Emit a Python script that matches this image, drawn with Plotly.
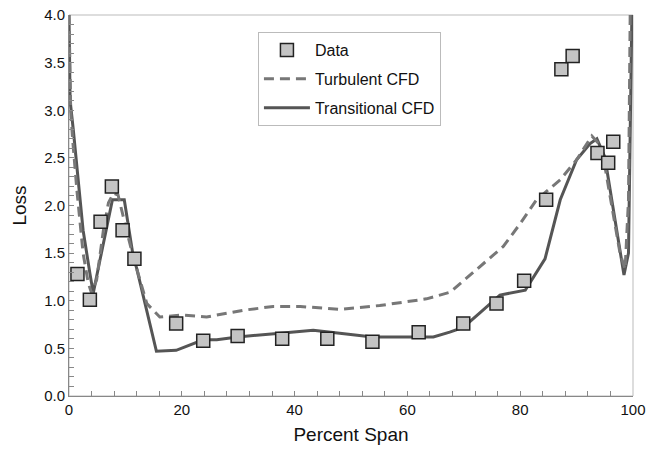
import plotly.graph_objects as go

# Measured data points
data_x = [1.5, 3.7, 5.6, 7.6, 9.5, 11.6, 19.0, 23.8, 29.9, 37.8, 45.8, 53.8, 62.0,
          69.9, 75.8, 80.7, 84.6, 87.3, 89.3, 93.7, 95.6, 96.5]
data_y = [1.28, 1.01, 1.83, 2.20, 1.74, 1.44, 0.76, 0.58, 0.63, 0.60, 0.60, 0.57, 0.67,
          0.76, 0.97, 1.21, 2.06, 3.43, 3.57, 2.55, 2.45, 2.67]

# Turbulent CFD
turb_x = [0, 0.3, 0.65, 1.4, 2.5, 3.4, 4.0, 4.9, 6.1, 7.0, 7.9, 8.7, 10.2, 11.4, 13.8,
          16.1, 20, 24.4, 30.9, 36.2, 41, 48, 55.1, 63.4, 67.6, 72.9, 77, 80, 82.9,
          87.1, 90, 92.7, 94.4, 97.7, 98.6, 99.2, 99.5]
turb_y = [4.0, 3.0, 2.69, 2.16, 1.5, 1.19, 1.08, 1.22, 1.74, 2.03, 2.13, 2.11, 1.74, 1.46,
          0.97, 0.83, 0.85, 0.83, 0.90, 0.94, 0.94, 0.91, 0.95, 1.02, 1.09, 1.36, 1.57,
          1.81, 2.06, 2.27, 2.48, 2.73, 2.62, 1.50, 1.33, 2.06, 4.0]

# Transitional CFD
trans_x = [0, 0.2, 0.77, 1.65, 2.5, 3.7, 4.3, 5.5, 6.7, 7.7, 9.8, 11.4, 12.0, 15.5, 19.0,
           23.8, 26.2, 29.9, 37.4, 43.3, 48.0, 53.8, 58, 64.6, 67.5, 69.9, 73, 76.4,
           80.9, 84.4, 87.1, 90.0, 92.4, 93.6, 95.0, 98.4, 99.2, 99.8]
trans_y = [4.0, 3.1, 2.79, 2.27, 1.74, 1.29, 1.08, 1.43, 1.78, 2.06, 2.06, 1.46, 1.34,
           0.47, 0.48, 0.59, 0.59, 0.62, 0.66, 0.69, 0.66, 0.62, 0.62, 0.62, 0.67, 0.72,
           0.88, 1.06, 1.11, 1.44, 2.06, 2.48, 2.65, 2.70, 2.51, 1.27, 1.50, 4.0]

fig = go.Figure()
fig.add_trace(go.Scatter(x=trans_x, y=trans_y, mode="lines", name="Transitional CFD",
                         line=dict(color="#555555", width=3), legendrank=3,
                         legendgroup="c"))
fig.add_trace(go.Scatter(x=turb_x, y=turb_y, mode="lines", name="Turbulent CFD",
                         line=dict(color="#777777", width=3, dash="10px,6px"),
                         legendrank=2, legendgroup="b"))
fig.add_trace(go.Scatter(x=data_x, y=data_y, mode="markers", name="Data",
                         marker=dict(symbol="square", size=13, color="#c4c4c4",
                                     line=dict(color="#222222", width=1.5)),
                         legendrank=1, legendgroup="a"))

fig.add_shape(type="rect", xref="paper", yref="paper", x0=0, y0=0, x1=1, y1=1,
              line=dict(color="#bbbbbb", width=1), layer="below")

fig.update_layout(
    width=647, height=449,
    margin=dict(l=69, r=14, t=15, b=53, autoexpand=False),
    paper_bgcolor="white", plot_bgcolor="white",
    font=dict(family="Liberation Sans, Arial, sans-serif", color="#111111"),
    showlegend=True,
    legend=dict(x=0.335, y=0.955, xanchor="left", yanchor="top",
                bgcolor="white", bordercolor="#bbbbbb", borderwidth=1,
                font=dict(size=16), tracegroupgap=5, traceorder="grouped",
                itemwidth=46),
    xaxis=dict(range=[0, 100], dtick=20, tickformat="d", automargin=False,
               ticks="inside", ticklen=5, tickcolor="#888888",
               minor=dict(dtick=4, ticks="inside", ticklen=5, tickcolor="#888888"),
               showgrid=False, zeroline=False, showline=True, linecolor="#888888",
               linewidth=1, tickfont=dict(size=15),
               title=dict(text="Percent Span", font=dict(size=19), standoff=10)),
    yaxis=dict(range=[0, 4], dtick=0.5, tickformat=".1f", automargin=False,
               ticks="inside", ticklen=5, tickcolor="#888888",
               minor=dict(dtick=0.1, ticks="inside", ticklen=5, tickcolor="#888888"),
               showgrid=False, zeroline=False, showline=True, linecolor="#888888",
               linewidth=1, tickfont=dict(size=15),
               title=dict(text="Loss", font=dict(size=19), standoff=12)),
)

fig.write_html("out.html")
